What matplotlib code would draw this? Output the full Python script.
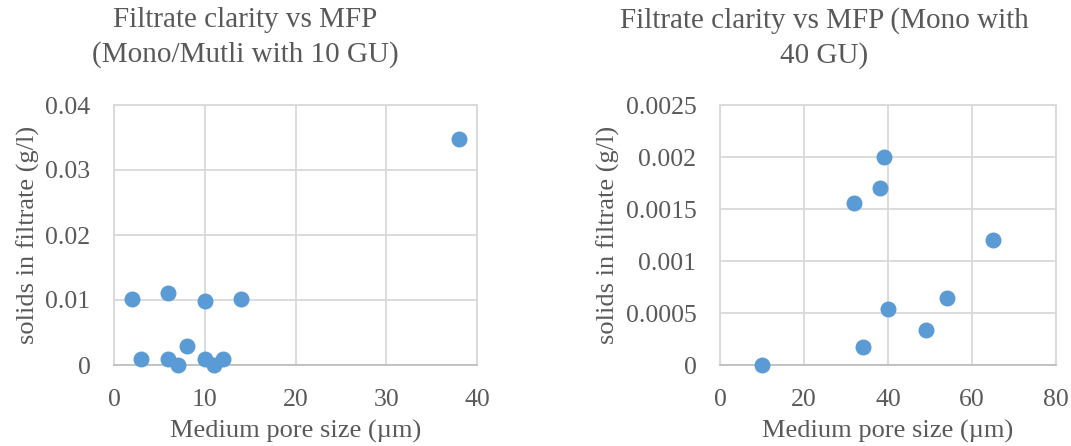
import matplotlib
matplotlib.use('Agg')
import matplotlib.pyplot as plt
from matplotlib.ticker import MultipleLocator, FuncFormatter

# left chart: mono/multi with 10 GU
pore_10gu = [2, 6, 10, 14, 3, 6, 7, 8, 10, 11, 12, 38]
solids_10gu = [0.0101, 0.0111, 0.0099, 0.0101, 0.001, 0.001, 0.0, 0.003,
               0.001, 0.0, 0.001, 0.0348]

# right chart: mono with 40 GU
pore_40gu = [10, 32, 38, 39, 65, 40, 34, 49, 54]
solids_40gu = [0.0, 0.00156, 0.0017, 0.002, 0.0012, 0.00054, 0.000175,
               0.000335, 0.00064]

titles = ['Filtrate clarity vs MFP\n(Mono/Mutli with 10 GU)',
          'Filtrate clarity vs MFP (Mono with\n40 GU)']
xlabel = 'Medium pore size (\u00b5m)'
ylabel = 'solids in filtrate (g/l)'

TXT = '#595959'
GRID = '#d9d9d9'
BLUE = '#5b9bd5'
plt.rcParams['font.family'] = ['Liberation Serif', 'DejaVu Serif']

W, H = 1071, 446
fig = plt.figure(figsize=(W / 100, H / 100), dpi=100)


def px_axes(left, right, top, bottom):
    return fig.add_axes([left / W, 1 - bottom / H, (right - left) / W, (bottom - top) / H])


def yfmt_general(v, pos):
    # excel "General" style: no trailing zeros
    return ('%.4f' % v).rstrip('0').rstrip('.')


def style(ax, xlim, xstep, ylim, ystep):
    ax.set_xlim(*xlim)
    ax.set_ylim(*ylim)
    ax.xaxis.set_major_locator(MultipleLocator(xstep))
    ax.yaxis.set_major_locator(MultipleLocator(ystep))
    ax.yaxis.set_major_formatter(FuncFormatter(yfmt_general))
    ax.grid(True, color=GRID, linewidth=1.3)
    ax.set_axisbelow(True)
    for sp in ax.spines.values():
        sp.set_color(GRID)
        sp.set_linewidth(1.3)
    ax.spines['bottom'].set_color('#bfbfbf')
    ax.tick_params(length=0, labelsize=18.5, labelcolor=TXT, pad=17)
    ax.set_xlabel(xlabel, fontsize=19, color=TXT, labelpad=7)
    ax.set_ylabel(ylabel, fontsize=19, color=TXT, labelpad=4)


ax1 = px_axes(114, 477, 105, 365)
ax1.scatter(pore_10gu, solids_10gu, s=110, color=BLUE, zorder=3, clip_on=False)
style(ax1, (0, 40), 10, (0, 0.04), 0.01)

ax2 = px_axes(720, 1056, 105, 365)
ax2.scatter(pore_40gu, solids_40gu, s=110, color=BLUE, zorder=3, clip_on=False)
style(ax2, (0, 80), 20, (0, 0.0025), 0.0005)

for cx, t in zip((245, 824), titles):
    fig.text(cx / W, 1 - 7 / H, t, ha='center', va='top', fontsize=21,
             color=TXT, linespacing=1.4)

fig.savefig('out.png', dpi=100)
